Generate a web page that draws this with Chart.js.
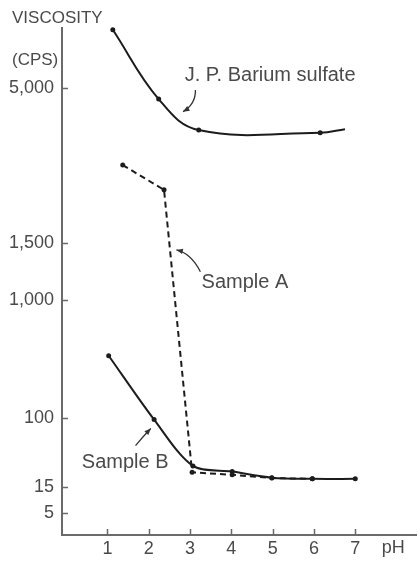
<!DOCTYPE html>
<html lang="en">
  <head>
    <meta charset="UTF-8" />
    <title>Viscosity vs pH</title>
    <script src="https://cdn.jsdelivr.net/npm/chart.js"></script>
    <style>
      html, body { margin: 0; padding: 0; background: #fff; }
      #wrap { width: 420px; height: 563px; position: relative; }
    </style>
  </head>
  <body>
    <div id="wrap"><canvas id="chart"></canvas></div>

    <script>
      // ticks
      const phTicks = [1, 2, 3, 4, 5, 6, 7];
      const viscosityTicks = [5, 15, 100, 1000, 1500, 5000];

      // series (pH, viscosity in cps)
      const bariumPH = [1.13, 2.24, 3.21, 6.15, 6.75];
      const bariumViscosity = [6310, 4750, 4050, 3990, 4070];

      const sampleAPH = [1.37, 2.37, 3.05, 4.02, 4.98, 5.96];
      const sampleAViscosity = [3260, 2700, 33, 30, 26, 25];

      const sampleBPH = [1.03, 2.13, 3.07, 4.02, 4.98, 5.96, 7.0];
      const sampleBViscosity = [575, 98, 41, 34, 26.5, 25, 25];

      // the printed axis is not linear: value -> share of the axis height
      const axisValues = [0, 5, 15, 100, 1000, 1500, 5000, 6350];
      const axisShares = [0, 0.0434, 0.0947, 0.2308, 0.4635, 0.5759, 0.8817, 1];

      class ViscosityScale extends Chart.LinearScale {
        static id = 'viscosity';
        buildTicks() {
          return viscosityTicks.map(v => ({ value: v }));
        }
        getPixelForValue(value) {
          let i = 1;
          while (i < axisValues.length - 1 && value > axisValues[i]) i++;
          const t = (value - axisValues[i - 1]) / (axisValues[i] - axisValues[i - 1]);
          const share = axisShares[i - 1] + t * (axisShares[i] - axisShares[i - 1]);
          return this.bottom - share * (this.bottom - this.top);
        }
        getValueForPixel(pixel) {
          const share = (this.bottom - pixel) / (this.bottom - this.top);
          let i = 1;
          while (i < axisShares.length - 1 && share > axisShares[i]) i++;
          const t = (share - axisShares[i - 1]) / (axisShares[i] - axisShares[i - 1]);
          return axisValues[i - 1] + t * (axisValues[i] - axisValues[i - 1]);
        }
      }
      Chart.register(ViscosityScale);

      // labels and arrows, placed in data units
      const notes = [
        { text: 'J. P. Barium sulfate', x: 2.87, y: 5270 },
        { text: 'Sample A', x: 3.28, y: 1150 },
        { text: 'Sample B', x: 0.38, y: 45 }
      ];
      const arrows = [
        { from: [3.13, 4955], ctrl: [3.14, 4640], to: [2.83, 4465] },
        { from: [3.25, 1248], ctrl: [3.02, 1410], to: [2.67, 1439] },
        { from: [1.68, 66], ctrl: [1.86, 77], to: [2.05, 87] }
      ];

      const ink = '#1c1c1c';
      const textGray = '#4a4a4a';
      const axisGray = '#6a6a6a';
      const font = "'Liberation Sans', Arial, sans-serif";

      Chart.defaults.font.family = font;
      Chart.defaults.color = textGray;

      const toPoints = (xs, ys) => xs.map((x, i) => ({ x, y: ys[i] }));

      const decorations = {
        id: 'decorations',
        afterDraw(chart) {
          const { ctx, chartArea, scales } = chart;
          const xs = scales.x, ys = scales.y;
          ctx.save();

          // inward tick marks
          ctx.strokeStyle = axisGray;
          ctx.lineWidth = 1.5;
          ctx.beginPath();
          viscosityTicks.forEach(v => {
            const py = Math.round(ys.getPixelForValue(v)) + 0.5;
            ctx.moveTo(chartArea.left, py);
            ctx.lineTo(chartArea.left + 6, py);
          });
          phTicks.forEach(v => {
            const px = Math.round(xs.getPixelForValue(v)) + 0.5;
            ctx.moveTo(px, chartArea.bottom);
            ctx.lineTo(px, chartArea.bottom - 6);
          });
          ctx.stroke();

          // axis titles
          ctx.fillStyle = textGray;
          ctx.textBaseline = 'middle';
          ctx.textAlign = 'left';
          ctx.font = `17px ${font}`;
          ctx.fillText('VISCOSITY', chartArea.left - 50, chartArea.top - 10);
          ctx.fillText('(CPS)', chartArea.left - 50, chartArea.top + 32);
          ctx.font = `18px ${font}`;
          ctx.fillText('pH', xs.getPixelForValue(7.64), chartArea.bottom + 13);

          // curve labels
          ctx.font = `20px ${font}`;
          notes.forEach(n => {
            ctx.fillText(n.text, xs.getPixelForValue(n.x), ys.getPixelForValue(n.y));
          });

          // arrows
          ctx.strokeStyle = '#333';
          ctx.fillStyle = '#333';
          ctx.lineWidth = 1.3;
          arrows.forEach(a => {
            const p0 = [xs.getPixelForValue(a.from[0]), ys.getPixelForValue(a.from[1])];
            const c = [xs.getPixelForValue(a.ctrl[0]), ys.getPixelForValue(a.ctrl[1])];
            const p1 = [xs.getPixelForValue(a.to[0]), ys.getPixelForValue(a.to[1])];
            ctx.beginPath();
            ctx.moveTo(p0[0], p0[1]);
            ctx.quadraticCurveTo(c[0], c[1], p1[0], p1[1]);
            ctx.stroke();
            const ang = Math.atan2(p1[1] - c[1], p1[0] - c[0]);
            ctx.beginPath();
            ctx.moveTo(p1[0], p1[1]);
            ctx.lineTo(p1[0] - 7 * Math.cos(ang - 0.4), p1[1] - 7 * Math.sin(ang - 0.4));
            ctx.lineTo(p1[0] - 7 * Math.cos(ang + 0.4), p1[1] - 7 * Math.sin(ang + 0.4));
            ctx.closePath();
            ctx.fill();
          });

          ctx.restore();
        }
      };

      new Chart(document.getElementById('chart'), {
        type: 'line',
        data: {
          datasets: [
            {
              label: 'J. P. Barium sulfate',
              data: toPoints(bariumPH, bariumViscosity),
              borderColor: ink,
              borderWidth: 2,
              tension: 0.4,
              pointRadius: [2.5, 2.5, 2.5, 2.5, 0],
              pointBackgroundColor: ink,
              pointBorderWidth: 0,
              clip: 8
            },
            {
              label: 'Sample A',
              data: toPoints(sampleAPH, sampleAViscosity),
              borderColor: ink,
              borderWidth: 2,
              borderDash: [6, 4],
              tension: 0,
              pointRadius: 2.5,
              pointBackgroundColor: ink,
              pointBorderWidth: 0,
              clip: 8
            },
            {
              label: 'Sample B',
              data: toPoints(sampleBPH, sampleBViscosity),
              borderColor: ink,
              borderWidth: 2,
              tension: 0.3,
              pointRadius: 2.5,
              pointBackgroundColor: ink,
              pointBorderWidth: 0,
              clip: 8
            }
          ]
        },
        options: {
          responsive: true,
          maintainAspectRatio: false,
          animation: false,
          layout: { padding: { top: 28, right: 0, bottom: 0, left: 0 } },
          plugins: {
            legend: { display: false },
            tooltip: { enabled: false }
          },
          scales: {
            x: {
              type: 'linear',
              min: -0.1,
              max: 8.47,
              afterBuildTicks: scale => { scale.ticks = phTicks.map(v => ({ value: v })); },
              afterFit: scale => { scale.height = 28; },
              grid: { display: false, drawTicks: false },
              border: { color: axisGray, width: 2 },
              ticks: { autoSkip: false, maxRotation: 0, padding: 3, font: { size: 18 }, color: textGray }
            },
            y: {
              type: 'viscosity',
              min: 0,
              max: 6350,
              afterFit: scale => { scale.width = 62; },
              grid: { display: false, drawTicks: false },
              border: { color: axisGray, width: 2 },
              ticks: {
                autoSkip: false,
                padding: 8,
                font: { size: 18 },
                color: textGray,
                callback: v => v.toLocaleString('en-US')
              }
            }
          }
        },
        plugins: [decorations]
      });
    </script>
  </body>
</html>
